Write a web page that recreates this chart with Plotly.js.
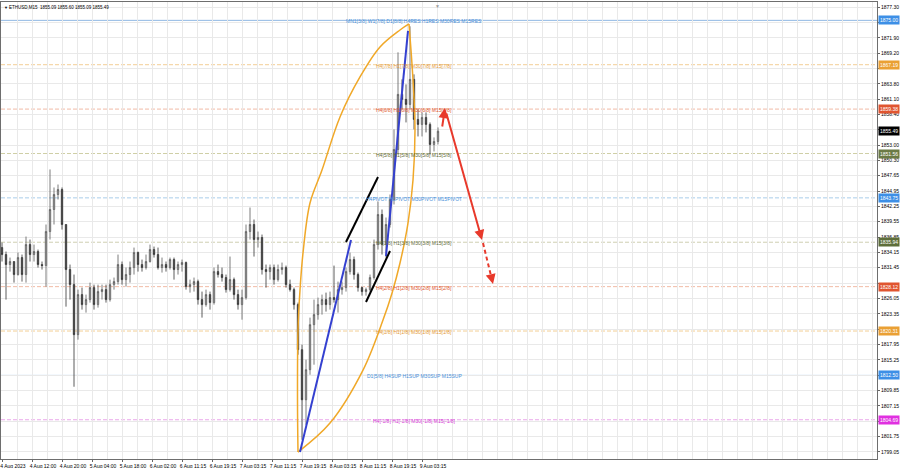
<!DOCTYPE html>
<html>
<head>
<meta charset="utf-8">
<script src="https://cdn.plot.ly/plotly-3.0.1.min.js"></script>
<style>html,body{margin:0;padding:0;background:#fff;}#chart{width:900px;height:468px;}</style>
</head>
<body>
<div id="chart"></div>
<script>
// ---- data (hourly aggregates of the M15 chart, x in M15-bar units) ----
const candleOpen = [1835.00,1833.77,1832.01,1832.54,1830.25,1833.24,1830.25,1835.53,1833.77,1834.30,
1832.01,1831.83,1837.82,1841.70,1844.34,1845.22,1839.06,1831.13,1828.48,1819.67,
1826.72,1824.96,1825.84,1827.95,1824.96,1827.25,1827.60,1825.84,1828.48,1829.01,
1832.01,1829.36,1830.25,1831.48,1834.12,1832.01,1831.48,1832.54,1834.65,1833.77,
1831.48,1832.01,1831.48,1832.89,1831.13,1832.01,1832.36,1828.13,1828.48,1829.01,
1825.84,1824.96,1826.72,1825.31,1830.77,1830.25,1829.72,1827.60,1829.36,1826.72,
1824.96,1826.19,1837.82,1839.06,1836.41,1836.77,1831.13,1830.77,1831.48,1829.36,
1831.13,1831.48,1828.48,1827.60,1824.96,1817.03,1808.21,1813.50,1821.43,1823.20,
1824.96,1825.84,1824.96,1826.19,1825.84,1827.60,1827.95,1830.77,1832.89,1830.25,
1827.95,1827.25,1827.60,1829.72,1835.53,1840.82,1835.53,1839.06,1843.46,1852.27,
1861.97,1861.09,1860.20,1864.61,1857.56,1856.68,1857.91,1856.68,1853.15,1853.68];
const candleHigh = [1835.88,1834.30,1833.24,1832.54,1834.12,1833.77,1836.94,1836.41,1835.53,1834.65,
1832.54,1839.06,1848.75,1845.58,1846.10,1845.58,1839.06,1832.01,1830.25,1827.60,
1827.95,1826.72,1828.83,1828.48,1828.48,1828.48,1828.48,1829.36,1829.72,1833.77,
1832.54,1831.48,1832.54,1835.00,1834.30,1832.89,1833.77,1835.53,1835.18,1835.00,
1833.24,1832.54,1833.24,1833.24,1832.54,1832.89,1832.54,1829.36,1829.72,1829.36,
1827.25,1827.60,1827.25,1831.48,1832.01,1831.48,1830.25,1833.42,1829.72,1827.60,
1827.60,1839.06,1842.05,1839.94,1837.82,1837.29,1832.01,1832.01,1832.01,1832.01,
1832.36,1831.83,1829.36,1827.95,1825.31,1817.91,1815.26,1822.67,1825.84,1826.19,
1826.72,1827.07,1827.25,1831.83,1829.01,1829.01,1831.48,1834.12,1833.42,1830.60,
1828.13,1827.95,1830.25,1836.41,1843.11,1841.70,1840.29,1844.34,1855.80,1869.37,
1864.61,1863.73,1873.95,1865.49,1859.32,1858.79,1858.79,1857.03,1854.39,1856.15];
const candleLow = [1832.54,1825.84,1830.77,1828.83,1830.07,1829.01,1828.83,1832.54,1832.54,1831.48,
1831.13,1828.13,1836.41,1839.06,1843.46,1838.17,1824.60,1825.84,1810.50,1818.79,
1824.08,1823.55,1825.31,1824.08,1824.43,1825.84,1825.31,1825.49,1827.60,1828.48,
1828.48,1828.13,1828.83,1830.25,1830.77,1830.77,1831.13,1832.36,1833.24,1831.13,
1830.60,1830.77,1831.13,1829.36,1830.25,1830.77,1827.60,1827.07,1827.25,1824.96,
1822.67,1824.60,1824.08,1824.96,1829.72,1829.01,1827.07,1827.25,1825.84,1824.08,
1822.31,1825.84,1836.41,1833.42,1835.00,1830.25,1827.95,1829.36,1828.48,1829.01,
1830.25,1827.95,1827.25,1824.08,1816.14,1801.16,1803.81,1812.62,1814.38,1822.31,
1823.20,1823.73,1824.08,1825.31,1823.55,1826.72,1827.25,1830.25,1829.36,1827.25,
1826.54,1826.54,1827.25,1829.36,1834.65,1833.77,1833.24,1838.53,1842.58,1851.39,
1859.32,1857.03,1859.32,1855.80,1854.56,1854.56,1855.27,1851.39,1851.92,1853.15];
const candleClose = [1833.77,1832.01,1832.54,1830.25,1833.24,1830.25,1835.53,1833.77,1834.30,1832.01,
1831.83,1837.82,1841.70,1844.34,1845.22,1839.06,1831.13,1828.48,1819.67,1826.72,
1824.96,1825.84,1827.95,1824.96,1827.25,1827.60,1825.84,1828.48,1829.01,1832.01,
1829.36,1830.25,1831.48,1834.12,1832.01,1831.48,1832.54,1834.65,1833.77,1831.48,
1832.01,1831.48,1832.89,1831.13,1832.01,1832.36,1828.13,1828.48,1829.01,1825.84,
1824.96,1826.72,1825.31,1830.77,1830.25,1829.72,1827.60,1829.36,1826.72,1824.96,
1826.19,1837.82,1839.06,1836.41,1836.77,1831.13,1830.77,1831.48,1829.36,1831.13,
1831.48,1828.48,1827.60,1824.96,1817.03,1808.21,1813.50,1821.43,1823.20,1824.96,
1825.84,1824.96,1826.19,1825.84,1827.60,1827.95,1830.77,1832.89,1830.25,1827.95,
1827.25,1827.60,1829.72,1835.53,1840.82,1835.53,1839.06,1843.46,1852.27,1861.97,
1861.09,1860.20,1864.61,1857.56,1856.68,1857.91,1856.68,1853.15,1853.68,1855.49];
const barsPerCandle = 4;

const xTickBars = [0,30,60,90,120,150,180,210,240,270,300,330,360,390,420];
const xTickLabels = ["4 Aug 2023","4 Aug 12:00","4 Aug 20:00","5 Aug 04:00","5 Aug 18:00","6 Aug 02:00","6 Aug 11:15","6 Aug 19:15","7 Aug 03:15","7 Aug 11:15","7 Aug 19:15","8 Aug 03:15","8 Aug 11:15","8 Aug 19:15","9 Aug 03:15"];

const yTickValues = [1877.30,1874.60,1871.90,1869.20,1866.50,1863.80,1861.10,1858.40,1855.70,1853.00,1850.30,1847.65,1844.95,1842.25,1839.55,1836.85,1834.15,1831.45,1828.75,1826.05,1823.35,1820.65,1817.95,1815.25,1812.55,1809.85,1807.15,1804.45,1801.75,1799.05];

const levelPrices = [1875.00,1867.19,1859.38,1851.56,1843.75,1835.94,1828.12,1820.31,1812.50,1804.69];
const levelTexts = ["MN1[3/8] W1[7/8] D1[8/8] H4RES H1RES M30RES M15RES","H4[7/8] H1[7/8] M30[7/8] M15[7/8]","H4[6/8] H1[6/8] M30[6/8] M15[6/8]","H4[5/8] H1[5/8] M30[5/8] M15[5/8]","H4PIVOT H1PIVOT M30PIVOT M15PIVOT","H4[3/8] H1[3/8] M30[3/8] M15[3/8]","H4[2/8] H1[2/8] M30[2/8] M15[2/8]","H4[1/8] H1[1/8] M30[1/8] M15[1/8]","D1[5/8] H4SUP H1SUP M30SUP M15SUP","H4[-1/8] H1[-1/8] M30[-1/8] M15[-1/8]"];
const currentPrice = 1855.49;
const titleText = "ETHUSD,M15  1855.09 1855.60 1855.09 1855.49";

// drawing objects (bar, price)
const blueLine1Bars = [298,349], blueLine1Prices = [1799.00,1836.33];
const blueLine2Bars = [384,406], blueLine2Prices = [1833.51,1873.13];
const blackLine1Bars = [344,376], blackLine1Prices = [1835.98,1847.42];
const blackLine2Bars = [364,388], blackLine2Prices = [1825.42,1834.39];
const arcLeftBars = [296,295.5,296,298,301,308,320,338,358,378,398,407];
const arcLeftPrices = [1799.00,1808.16,1820.48,1827.53,1834.04,1842.84,1848.65,1857.99,1865.03,1870.31,1873.30,1874.36];
const arcRightBars = [296,328,361,381,390,398,406,411,413,411,407];
const arcRightPrices = [1799.00,1804.11,1813.44,1822.24,1826.97,1832.28,1839.32,1846.89,1855.70,1864.50,1874.36];
const arrowUpBars = [440,443], arrowUpPrices = [1856.05,1859.57];
const arrowDownBars = [444,480], arrowDownPrices = [1858.87,1836.33];
const arrowDashBars = [481,491], arrowDashPrices = [1835.80,1828.58];

// ---- styles ----
const FONT = "Liberation Sans, Arial, sans-serif";
const levelLineColors = ["#8fb8e3","#f3cf96","#f1bba6","#cfcfa6","#a9cdea","#cfcfb2","#f1bba6","#f3cf96","#9fc3e8","#eaa6ea"];
const levelDashed = [false,true,true,true,true,true,true,true,false,true];
const levelTextColors = ["#4a90d9","#e49b3a","#e0582f","#5f6a38","#4a90d9","#66703f","#e0582f","#e49b3a","#4a90d9","#d83ad8"];
const levelBoxColors = ["#3d8fe6","#eaa034","#e05530","#6b7a45","#3d8fe6","#5e6e3a","#e05530","#eaa034","#3d8fe6","#e030e0"];

const candleX = candleOpen.map((_, i) => i * barsPerCandle);

// tick labels that sit under a level box are hidden (as in the terminal)
const yTickText = yTickValues.map(v => {
  const covered = levelPrices.concat([currentPrice]).some(p => Math.abs(p - v) < 0.8);
  return covered ? '' : v.toFixed(2);
});

const traces = [
  {type:'candlestick', x:candleX, open:candleOpen, high:candleHigh, low:candleLow, close:candleClose,
   increasing:{line:{color:'#5a5a5a',width:0.8}, fillcolor:'#a8a8a8'},
   decreasing:{line:{color:'#333333',width:0.8}, fillcolor:'#3a3a3a'},
   whiskerwidth:0, hoverinfo:'skip', showlegend:false},
  {type:'scatter', mode:'lines', x:arcLeftBars, y:arcLeftPrices, line:{color:'#f0a828', width:1.5, shape:'spline'}, hoverinfo:'skip'},
  {type:'scatter', mode:'lines', x:arcRightBars, y:arcRightPrices, line:{color:'#f0a828', width:1.5, shape:'spline'}, hoverinfo:'skip'},
  {type:'scatter', mode:'lines', x:blueLine1Bars, y:blueLine1Prices, line:{color:'#3440d0', width:2}, hoverinfo:'skip'},
  {type:'scatter', mode:'lines', x:blueLine2Bars, y:blueLine2Prices, line:{color:'#3440d0', width:2}, hoverinfo:'skip'},
  {type:'scatter', mode:'lines', x:blackLine1Bars, y:blackLine1Prices, line:{color:'#000', width:2}, hoverinfo:'skip'},
  {type:'scatter', mode:'lines', x:blackLine2Bars, y:blackLine2Prices, line:{color:'#000', width:2}, hoverinfo:'skip'},
  {type:'scatter', mode:'lines', x:[arrowDashBars[0], arrowDashBars[1]-1.5], y:[arrowDashPrices[0], arrowDashPrices[1]+1.1], line:{color:'#e8392b', width:2, dash:'4px,3px'}, hoverinfo:'skip'}
];

const shapes = levelPrices.map((p, i) => ({
  type:'line', xref:'paper', x0:0, x1:1, yref:'y', y0:p, y1:p, layer:'below',
  line:{color:levelLineColors[i], width:1, dash: levelDashed[i] ? '4px,2px' : 'solid'}
}));

const annotations = [];
levelPrices.forEach((p, i) => {
  annotations.push({xref:'x', yref:'y', x:412, y:p, text:levelTexts[i], showarrow:false,
    xanchor:'center', yanchor:'middle', yshift:-1, font:{family:FONT, size:5, color:levelTextColors[i]}});
  annotations.push({xref:'paper', yref:'y', x:1, y:p, text:p.toFixed(2), showarrow:false,
    xanchor:'left', yanchor:'middle', xshift:1, bgcolor:levelBoxColors[i], borderpad:1,
    font:{family:FONT, size:5, color:'#ffffff'}});
});
annotations.push({xref:'paper', yref:'y', x:1, y:currentPrice, text:currentPrice.toFixed(2), showarrow:false,
  xanchor:'left', yanchor:'middle', xshift:1, bgcolor:'#000000', borderpad:1, font:{family:FONT, size:5, color:'#ffffff'}});
annotations.push({xref:'paper', yref:'paper', x:0, y:1, xshift:1, yshift:-1, xanchor:'left', yanchor:'top',
  text:'▼', showarrow:false, font:{family:FONT, size:4, color:'#000'}});
annotations.push({xref:'paper', yref:'paper', x:0, y:1, xshift:6, yshift:-1, xanchor:'left', yanchor:'top',
  text:titleText, showarrow:false, font:{family:FONT, size:4.5, color:'#000'}});
annotations.push({xref:'x', yref:'paper', x:435, y:1, yshift:1, xanchor:'center', yanchor:'top',
  text:'▼', showarrow:false, font:{family:FONT, size:5, color:'#9a9a9a'}});
// red arrows
annotations.push({xref:'x', yref:'y', axref:'x', ayref:'y', x:arrowUpBars[1], y:arrowUpPrices[1], ax:arrowUpBars[0], ay:arrowUpPrices[0],
  text:'', showarrow:true, arrowhead:2, arrowsize:1, arrowwidth:2, arrowcolor:'#e8392b', standoff:0, startstandoff:0});
annotations.push({xref:'x', yref:'y', axref:'x', ayref:'y', x:arrowDownBars[1], y:arrowDownPrices[1], ax:arrowDownBars[0], ay:arrowDownPrices[0],
  text:'', showarrow:true, arrowhead:2, arrowsize:1, arrowwidth:2, arrowcolor:'#e8392b', standoff:0, startstandoff:0});
annotations.push({xref:'x', yref:'y', axref:'x', ayref:'y', x:arrowDashBars[1], y:arrowDashPrices[1], ax:arrowDashBars[1]-2, ay:arrowDashPrices[1]+1.45,
  text:'', showarrow:true, arrowhead:2, arrowsize:1, arrowwidth:2, arrowcolor:'#e8392b', standoff:0, startstandoff:0});

const layout = {
  width:900, height:468,
  margin:{l:1, r:23, t:2, b:9, pad:0},
  paper_bgcolor:'#ffffff', plot_bgcolor:'#ffffff',
  showlegend:false,
  boxgap:0.5,
  font:{family:FONT, size:5, color:'#000'},
  xaxis:{
    range:[-1, 875], tickmode:'array', tickvals:xTickBars, ticktext:xTickLabels,
    ticks:'outside', ticklen:2, tickcolor:'#666', ticklabelshift:11, ticklabelstandoff:0,
    tickfont:{family:FONT, size:5, color:'#000'},
    showgrid:true, gridcolor:'#e9e9e9', gridwidth:1,
    minor:{tickmode:'linear', tick0:0, dtick:15, showgrid:true, gridcolor:'#e9e9e9', gridwidth:1, ticks:''},
    showline:true, linecolor:'#6e6e6e', linewidth:1, mirror:true, zeroline:false,
    rangeslider:{visible:false}, fixedrange:true
  },
  yaxis:{
    side:'right', range:[1797.78, 1878.23], tickmode:'array', tickvals:yTickValues,
    ticktext:yTickText,
    ticks:'outside', ticklen:2, tickcolor:'#666',
    tickfont:{family:FONT, size:5, color:'#000'},
    showgrid:true, gridcolor:'#e9e9e9', gridwidth:1,
    showline:true, linecolor:'#6e6e6e', linewidth:1, mirror:true, zeroline:false, fixedrange:true
  },
  shapes:shapes,
  annotations:annotations
};

Plotly.newPlot('chart', traces, layout, {staticPlot:true, displayModeBar:false});
</script>
</body>
</html>
